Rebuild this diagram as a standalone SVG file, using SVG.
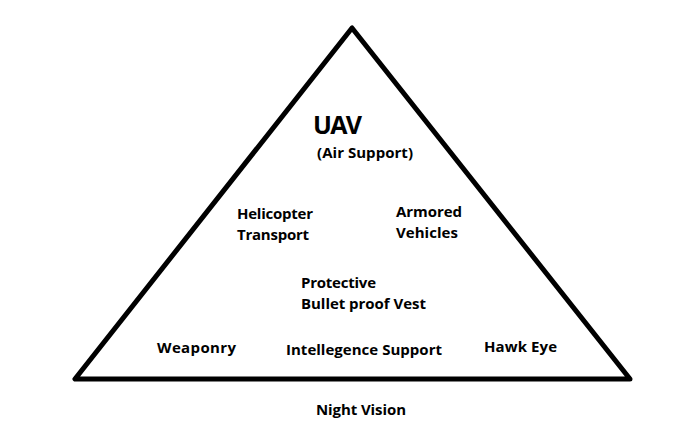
<svg xmlns="http://www.w3.org/2000/svg" width="699" height="430" viewBox="0 0 699 430">
<style>
text{font-family:"Open Sans","Liberation Sans",sans-serif;font-weight:bold;font-size:15px;fill:#000}
.big{font-size:25px}
</style>
<rect width="699" height="430" fill="#fff"/>
<g id="pyramid">
<polygon points="352,28 75,379 630,379" fill="none" stroke="#000" stroke-width="5" stroke-linejoin="round"/>
</g>
<g id="connectors"></g>
<g id="uav"><text class="big" x="313" y="134" textLength="49">UAV</text>
<text x="317" y="158" textLength="96">(Air Support)</text></g>
<g id="helicopter"><text x="237" y="219" textLength="76">Helicopter</text>
<text x="237" y="240" textLength="72">Transport</text></g>
<g id="armored"><text x="396" y="217" textLength="66">Armored</text>
<text x="396" y="238" textLength="62">Vehicles</text></g>
<g id="protective"><text x="301" y="288" textLength="75">Protective</text>
<text x="301" y="309" textLength="125">Bullet proof Vest</text></g>
<g id="weaponry"><text x="157" y="353" textLength="79">Weaponry</text></g>
<g id="intellegence"><text x="286" y="355" textLength="156">Intellegence Support</text></g>
<g id="hawkeye"><text x="484" y="352" textLength="73">Hawk Eye</text></g>
<g id="nightvision"><text x="316" y="415" textLength="90">Night Vision</text></g>
</svg>
